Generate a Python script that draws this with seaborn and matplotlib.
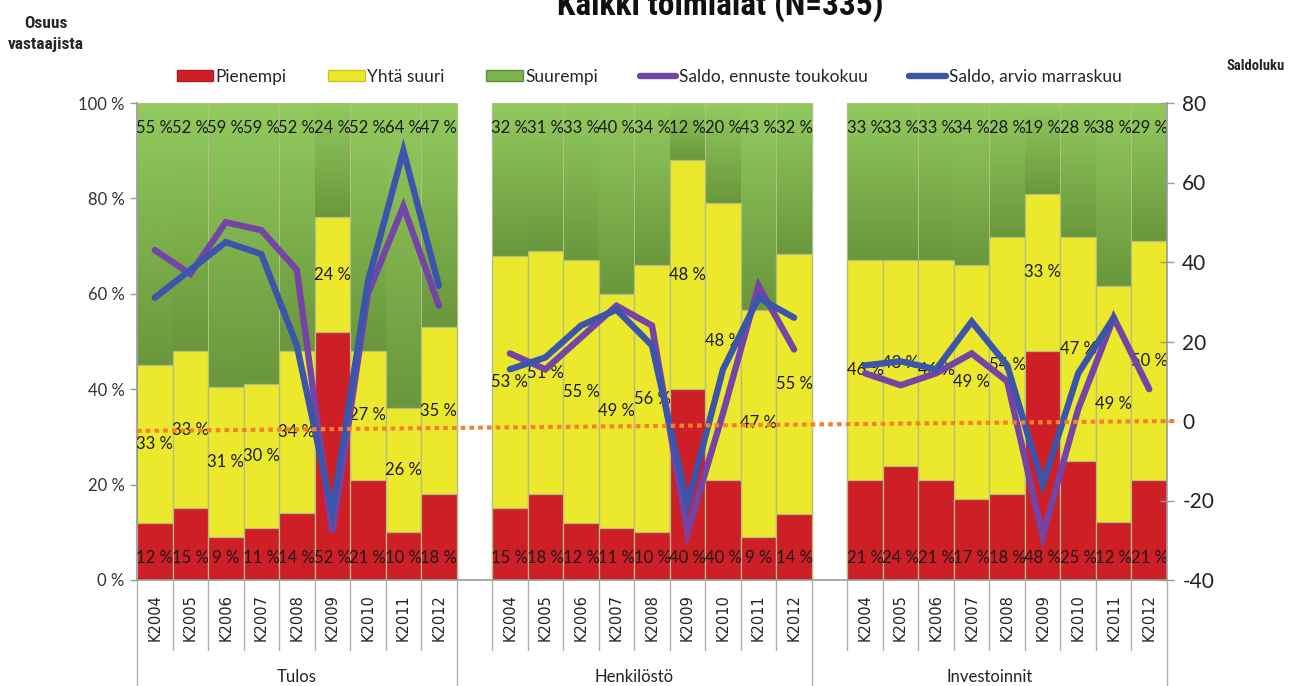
import numpy as np
import pandas as pd
import matplotlib
matplotlib.use("Agg")
import matplotlib.pyplot as plt
import matplotlib.transforms as mtransforms
from matplotlib.lines import Line2D
from matplotlib.patches import Patch
from matplotlib.colors import LinearSegmentedColormap
from matplotlib import font_manager
import seaborn as sns

# ---------------- data ----------------
vuodet = ["K2004", "K2005", "K2006", "K2007", "K2008", "K2009", "K2010", "K2011", "K2012"]
ryhmat = ["Tulos", "Henkilöstö", "Investoinnit"]

tulos_pienempi = [12, 15, 9, 11, 14, 52, 21, 10, 18]
tulos_yhta = [33, 33, 31, 30, 34, 24, 27, 26, 35]
tulos_suurempi = [55, 52, 59, 59, 52, 24, 52, 64, 47]
tulos_ennuste = [43, 37, 50, 48, 38, -28, 32, 54, 29]
tulos_arvio = [31, 38, 45, 42, 19, -23, 35, 68, 34]

henk_pienempi = [15, 18, 12, 11, 10, 40, 21, 9, 14]
henk_yhta = [53, 51, 55, 49, 56, 48, 58, 47, 55]
henk_suurempi = [32, 31, 33, 40, 34, 12, 21, 43, 32]
henk_ennuste = [17, 13, 21, 29, 24, -28, 2, 34, 18]
henk_arvio = [13, 16, 24, 28, 19, -21, 13, 31, 26]
# data labels printed in the original for Henkilöstö K2010 (differ from drawn bars)
henk_k2010_nimikkeet = ["40 %", "48 %", "20 %"]

inv_pienempi = [21, 24, 21, 17, 18, 48, 25, 12, 21]
inv_yhta = [46, 43, 46, 49, 54, 33, 47, 49, 50]
inv_suurempi = [33, 33, 33, 34, 28, 19, 28, 38, 29]
inv_ennuste = [12, 9, 12, 17, 10, -29, 3, 26, 8]
inv_arvio = [14, 15, 13, 25, 14, -16, 12, 26, np.nan]

nollataso = [-2.5, 0.0]   # orange dotted reference line (start, end)

pien = [tulos_pienempi, henk_pienempi, inv_pienempi]
yhta = [tulos_yhta, henk_yhta, inv_yhta]
suur = [tulos_suurempi, henk_suurempi, inv_suurempi]
ennuste = [tulos_ennuste, henk_ennuste, inv_ennuste]
arvio = [tulos_arvio, henk_arvio, inv_arvio]

# ---------------- styling ----------------
sns.set_style("white")


def pick(cands):
    names = {f.name for f in font_manager.fontManager.ttflist}
    for c in cands:
        if c in names:
            return c
    return "DejaVu Sans"


SANS = pick(["Lato", "Open Sans", "Liberation Sans"])
COND = pick(["Roboto Condensed", "Liberation Sans Narrow", "Lato"])
plt.rcParams["font.family"] = ["DejaVu Sans"]

C_RED = "#cf1f26"
C_YEL = "#ece82b"
C_GRN = "#7db34c"
C_GRN_TOP = "#92ca5e"
C_GRN_BOT = "#6a973c"
C_PUR = "#7444a6"
C_BLU = "#3b55ad"
C_ORA = "#f5812f"
EDGE = "#b3bd86"
AX_C = "#9a9a9a"

# ---------------- data frame ----------------
rows = []
for gi, g in enumerate(ryhmat):
    for j, v in enumerate(vuodet):
        p, y, s = pien[gi][j], yhta[gi][j], suur[gi][j]
        tot = p + y + s
        pn, yn, sn = p * 100 / tot, y * 100 / tot, s * 100 / tot
        rows.append(dict(x=gi * 10 + j, ryhma=g, vuosi=v,
                         p=p, y=y, s=s,
                         top_p=pn, top_y=pn + yn, top_s=pn + yn + sn,
                         ennuste=ennuste[gi][j], arvio=arvio[gi][j]))
df = pd.DataFrame(rows)

fig = plt.figure(figsize=(13.09, 6.86), dpi=100)
ax = fig.add_axes([137 / 1309, 1 - 580 / 686, (1167 - 137) / 1309, (580 - 103) / 686])

for col, c, z in [("top_s", C_GRN, 1.0), ("top_y", C_YEL, 2.0), ("top_p", C_RED, 2.5)]:
    sns.barplot(data=df, x="x", y=col, native_scale=True, width=1.0, color=c,
                saturation=1, edgecolor=EDGE, linewidth=0.9, errorbar=None,
                zorder=z, ax=ax)

# gradient shading on the green segments (light at top, darker at bottom)
grad_cmap = LinearSegmentedColormap.from_list("g", [C_GRN_BOT, C_GRN_TOP])
grad = np.linspace(0, 1, 64).reshape(-1, 1)
for _, r in df.iterrows():
    ax.imshow(grad, cmap=grad_cmap, origin="lower", aspect="auto", interpolation="bilinear",
              extent=(r.x - 0.485, r.x + 0.485, r.top_y, r.top_s - 0.3), zorder=1.5)

ax.set_xlim(-0.5, 28.5)
ax.set_ylim(0, 100)

# bar labels
for _, r in df.iterrows():
    if r.ryhma == "Henkilöstö" and r.vuosi == "K2010":
        lp, ly, ls = henk_k2010_nimikkeet
    else:
        lp, ly, ls = f"{r.p:.0f} %", f"{r.y:.0f} %", f"{r.s:.0f} %"
    kw = dict(ha="center", va="center", fontsize=12, color="#1a1a1a", zorder=5,
              fontfamily=SANS)
    ax.text(r.x, 4.6, lp, **kw)
    ax.text(r.x, (r.top_p + r.top_y) / 2, ly, **kw)
    ax.text(r.x, 94.8, ls, **kw)

# axes styling
ax.set_yticks(range(0, 101, 20))
ax.set_yticklabels([f"{t} %" for t in range(0, 101, 20)], fontsize=12,
                   color="#333333", fontfamily=SANS)
ax.tick_params(axis="y", direction="out", length=5, color=AX_C, width=1, pad=4)
ax.set_xticks(df["x"].tolist())
ax.set_xticklabels(df["vuosi"].tolist(), rotation=90, fontsize=10.5, color="#222222")
ax.tick_params(axis="x", length=0, pad=10)
ax.set_xlabel("")
ax.set_ylabel("")
for s in ["top", "right"]:
    ax.spines[s].set_visible(False)
for s in ["left", "bottom"]:
    ax.spines[s].set_color(AX_C)
    ax.spines[s].set_linewidth(1.2)

# category separators below the axis
trans = mtransforms.blended_transform_factory(ax.transData, ax.transAxes)
short_y = -(650 - 580) / 477
long_y = -(686 - 580) / 477 - 0.01
long_x = [-0.5, 8.5, 18.5, 28.5]
for gi in range(3):
    for j in range(10):
        bx = gi * 10 + j - 0.5
        yb = long_y if bx in long_x else short_y
        ax.plot([bx, bx], [0, yb], transform=trans, color="#b0b0b0", lw=1.0, clip_on=False)
for gi, g in enumerate(ryhmat):
    cx = (long_x[gi] + long_x[gi + 1]) / 2
    ax.text(cx, -(677 - 580) / 477, g, transform=trans, ha="center", va="center",
            fontsize=12, color="#222222", fontfamily=SANS)

# secondary axis with saldo lines
ax2 = ax.twinx()
for gi in range(3):
    sub = df[df.ryhma == ryhmat[gi]]
    sns.lineplot(x=sub["x"], y=sub["ennuste"], ax=ax2, color=C_PUR, lw=4.6,
                 solid_capstyle="round", solid_joinstyle="miter", legend=False)
    sns.lineplot(x=sub["x"], y=sub["arvio"], ax=ax2, color=C_BLU, lw=4.6,
                 solid_capstyle="round", solid_joinstyle="miter", legend=False)
sns.lineplot(x=[-0.5, 28.72], y=nollataso, ax=ax2, color=C_ORA, lw=3.0,
             dashes=False, legend=False)
ax2.lines[-1].set_linestyle((0, (1.1, 1.0)))
ax2.lines[-1].set_clip_on(False)

ax2.set_ylim(-40, 80)
ax2.set_xlim(-0.5, 28.5)
ax2.set_yticks(range(-40, 81, 20))
ax2.set_yticklabels([str(t) for t in range(-40, 81, 20)], fontsize=15,
                    color="#222222", fontfamily=SANS)
ax2.tick_params(axis="y", direction="inout", length=10, color=AX_C, width=1, pad=6)
ax2.set_ylabel("")
ax2.set_xlabel("")
for s in ["top", "left", "bottom"]:
    ax2.spines[s].set_visible(False)
ax2.spines["right"].set_color(AX_C)
ax2.spines["right"].set_linewidth(1.2)

# titles
fig.text(720 / 1309, 1 - 15 / 686, "Kaikki toimialat (N=335)", ha="center", va="baseline",
         fontsize=24, fontweight="bold", fontfamily=COND, color="#111111")
fig.text(46 / 1309, 1 - 34 / 686, "Osuus\nvastaajista", ha="center", va="center",
         fontsize=12.5, fontweight="bold", fontfamily=COND, linespacing=1.55)
fig.text(1256 / 1309, 1 - 66 / 686, "Saldoluku", ha="center", va="center",
         fontsize=10.5, fontweight="bold", fontfamily=COND)

# legend
handles = [Patch(facecolor=C_RED, edgecolor="#b01a20"),
           Patch(facecolor=C_YEL, edgecolor="#c9c522"),
           Patch(facecolor=C_GRN, edgecolor="#5f8c36"),
           Line2D([], [], color=C_PUR, lw=4.6, solid_capstyle="round"),
           Line2D([], [], color=C_BLU, lw=4.6, solid_capstyle="round")]
labels = ["Pienempi", "Yhtä suuri", "Suurempi", "Saldo, ennuste toukokuu", "Saldo, arvio marraskuu"]
leg = fig.legend(handles, labels, loc="center", bbox_to_anchor=(649 / 1309, 1 - 77 / 686),
                 ncol=5, frameon=False, handlelength=2.1, handleheight=0.6,
                 handletextpad=0.15, columnspacing=2.4,
                 prop={"family": SANS, "size": 12.5})

fig.savefig("out.png", dpi=100)
